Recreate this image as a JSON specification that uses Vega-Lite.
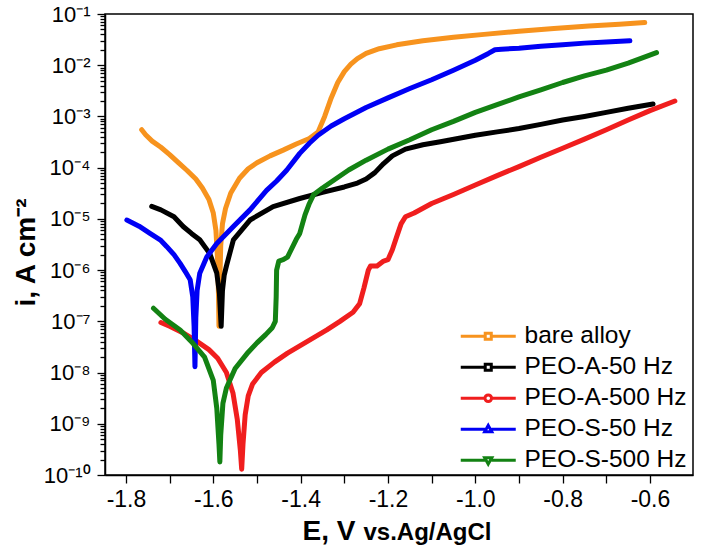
{
  "$schema": "https://vega.github.io/schema/vega-lite/v6.json",
  "width": 588,
  "height": 461,
  "autosize": "none",
  "padding": {"left": 105, "top": 14, "right": 21, "bottom": 71},
  "background": "white",
  "config": {
    "view": {"stroke": "black", "strokeWidth": 1.5},
    "axis": {
      "grid": false,
      "domainColor": "black",
      "domainWidth": 1.5,
      "tickColor": "black",
      "tickWidth": 1.3,
      "labelColor": "black",
      "labelFont": "Liberation Sans",
      "titleFont": "Liberation Sans",
      "titleColor": "black",
      "titleFontWeight": "bold"
    },
    "legend": {"labelFont": "Liberation Sans", "labelColor": "black", "labelLimit": 400}
  },
  "data": {
    "values": [
      {"s": "bare alloy", "E": -1.764, "i": 5.5e-4},
      {"s": "bare alloy", "E": -1.755, "i": 4.4e-4},
      {"s": "bare alloy", "E": -1.74, "i": 3.3e-4},
      {"s": "bare alloy", "E": -1.72, "i": 2.5e-4},
      {"s": "bare alloy", "E": -1.70, "i": 1.8e-4},
      {"s": "bare alloy", "E": -1.68, "i": 1.25e-4},
      {"s": "bare alloy", "E": -1.66, "i": 8.8e-5},
      {"s": "bare alloy", "E": -1.64, "i": 6.0e-5},
      {"s": "bare alloy", "E": -1.625, "i": 4.0e-5},
      {"s": "bare alloy", "E": -1.61, "i": 2.4e-5},
      {"s": "bare alloy", "E": -1.60, "i": 1.3e-5},
      {"s": "bare alloy", "E": -1.594, "i": 6e-6},
      {"s": "bare alloy", "E": -1.590, "i": 1.5e-6},
      {"s": "bare alloy", "E": -1.588, "i": 3e-7},
      {"s": "bare alloy", "E": -1.587, "i": 8e-8},
      {"s": "bare alloy", "E": -1.585, "i": 6e-7},
      {"s": "bare alloy", "E": -1.583, "i": 3e-6},
      {"s": "bare alloy", "E": -1.579, "i": 8e-6},
      {"s": "bare alloy", "E": -1.572, "i": 1.6e-5},
      {"s": "bare alloy", "E": -1.56, "i": 3.2e-5},
      {"s": "bare alloy", "E": -1.54, "i": 6.2e-5},
      {"s": "bare alloy", "E": -1.52, "i": 9.5e-5},
      {"s": "bare alloy", "E": -1.50, "i": 1.25e-4},
      {"s": "bare alloy", "E": -1.47, "i": 1.7e-4},
      {"s": "bare alloy", "E": -1.44, "i": 2.2e-4},
      {"s": "bare alloy", "E": -1.41, "i": 2.9e-4},
      {"s": "bare alloy", "E": -1.38, "i": 3.7e-4},
      {"s": "bare alloy", "E": -1.36, "i": 5.0e-4},
      {"s": "bare alloy", "E": -1.345, "i": 1.0e-3},
      {"s": "bare alloy", "E": -1.33, "i": 2.3e-3},
      {"s": "bare alloy", "E": -1.315, "i": 4.6e-3},
      {"s": "bare alloy", "E": -1.30, "i": 7.5e-3},
      {"s": "bare alloy", "E": -1.285, "i": 1.05e-2},
      {"s": "bare alloy", "E": -1.27, "i": 1.35e-2},
      {"s": "bare alloy", "E": -1.25, "i": 1.7e-2},
      {"s": "bare alloy", "E": -1.22, "i": 2.1e-2},
      {"s": "bare alloy", "E": -1.18, "i": 2.5e-2},
      {"s": "bare alloy", "E": -1.12, "i": 3.0e-2},
      {"s": "bare alloy", "E": -1.05, "i": 3.5e-2},
      {"s": "bare alloy", "E": -0.98, "i": 4.0e-2},
      {"s": "bare alloy", "E": -0.90, "i": 4.6e-2},
      {"s": "bare alloy", "E": -0.82, "i": 5.2e-2},
      {"s": "bare alloy", "E": -0.74, "i": 5.8e-2},
      {"s": "bare alloy", "E": -0.67, "i": 6.3e-2},
      {"s": "bare alloy", "E": -0.612, "i": 6.8e-2},

      {"s": "PEO-A-50 Hz", "E": -1.741, "i": 1.75e-5},
      {"s": "PEO-A-50 Hz", "E": -1.72, "i": 1.5e-5},
      {"s": "PEO-A-50 Hz", "E": -1.69, "i": 1.1e-5},
      {"s": "PEO-A-50 Hz", "E": -1.669, "i": 7.1e-6},
      {"s": "PEO-A-50 Hz", "E": -1.65, "i": 5.2e-6},
      {"s": "PEO-A-50 Hz", "E": -1.631, "i": 3.9e-6},
      {"s": "PEO-A-50 Hz", "E": -1.608, "i": 2.1e-6},
      {"s": "PEO-A-50 Hz", "E": -1.592, "i": 8.7e-7},
      {"s": "PEO-A-50 Hz", "E": -1.586, "i": 3.5e-7},
      {"s": "PEO-A-50 Hz", "E": -1.582, "i": 8e-8},
      {"s": "PEO-A-50 Hz", "E": -1.579, "i": 4e-7},
      {"s": "PEO-A-50 Hz", "E": -1.575, "i": 8e-7},
      {"s": "PEO-A-50 Hz", "E": -1.570, "i": 1.2e-6},
      {"s": "PEO-A-50 Hz", "E": -1.554, "i": 3.9e-6},
      {"s": "PEO-A-50 Hz", "E": -1.516, "i": 9.5e-6},
      {"s": "PEO-A-50 Hz", "E": -1.463, "i": 1.74e-5},
      {"s": "PEO-A-50 Hz", "E": -1.402, "i": 2.5e-5},
      {"s": "PEO-A-50 Hz", "E": -1.35, "i": 3.3e-5},
      {"s": "PEO-A-50 Hz", "E": -1.30, "i": 4.2e-5},
      {"s": "PEO-A-50 Hz", "E": -1.27, "i": 5.0e-5},
      {"s": "PEO-A-50 Hz", "E": -1.25, "i": 6.0e-5},
      {"s": "PEO-A-50 Hz", "E": -1.23, "i": 8.0e-5},
      {"s": "PEO-A-50 Hz", "E": -1.21, "i": 1.2e-4},
      {"s": "PEO-A-50 Hz", "E": -1.19, "i": 1.7e-4},
      {"s": "PEO-A-50 Hz", "E": -1.16, "i": 2.3e-4},
      {"s": "PEO-A-50 Hz", "E": -1.12, "i": 2.8e-4},
      {"s": "PEO-A-50 Hz", "E": -1.08, "i": 3.2e-4},
      {"s": "PEO-A-50 Hz", "E": -1.04, "i": 3.7e-4},
      {"s": "PEO-A-50 Hz", "E": -1.00, "i": 4.3e-4},
      {"s": "PEO-A-50 Hz", "E": -0.95, "i": 5.0e-4},
      {"s": "PEO-A-50 Hz", "E": -0.90, "i": 5.8e-4},
      {"s": "PEO-A-50 Hz", "E": -0.85, "i": 7.0e-4},
      {"s": "PEO-A-50 Hz", "E": -0.80, "i": 8.5e-4},
      {"s": "PEO-A-50 Hz", "E": -0.75, "i": 1.0e-3},
      {"s": "PEO-A-50 Hz", "E": -0.70, "i": 1.2e-3},
      {"s": "PEO-A-50 Hz", "E": -0.65, "i": 1.45e-3},
      {"s": "PEO-A-50 Hz", "E": -0.593, "i": 1.75e-3},

      {"s": "PEO-A-500 Hz", "E": -1.72, "i": 9.5e-8},
      {"s": "PEO-A-500 Hz", "E": -1.70, "i": 8e-8},
      {"s": "PEO-A-500 Hz", "E": -1.67, "i": 6e-8},
      {"s": "PEO-A-500 Hz", "E": -1.64, "i": 4.2e-8},
      {"s": "PEO-A-500 Hz", "E": -1.61, "i": 2.8e-8},
      {"s": "PEO-A-500 Hz", "E": -1.59, "i": 1.9e-8},
      {"s": "PEO-A-500 Hz", "E": -1.57, "i": 1.0e-8},
      {"s": "PEO-A-500 Hz", "E": -1.555, "i": 4e-9},
      {"s": "PEO-A-500 Hz", "E": -1.545, "i": 1.2e-9},
      {"s": "PEO-A-500 Hz", "E": -1.538, "i": 3e-10},
      {"s": "PEO-A-500 Hz", "E": -1.535, "i": 1.3e-10},
      {"s": "PEO-A-500 Hz", "E": -1.532, "i": 4e-10},
      {"s": "PEO-A-500 Hz", "E": -1.527, "i": 1.5e-9},
      {"s": "PEO-A-500 Hz", "E": -1.52, "i": 3.5e-9},
      {"s": "PEO-A-500 Hz", "E": -1.51, "i": 6e-9},
      {"s": "PEO-A-500 Hz", "E": -1.49, "i": 1e-8},
      {"s": "PEO-A-500 Hz", "E": -1.46, "i": 1.6e-8},
      {"s": "PEO-A-500 Hz", "E": -1.43, "i": 2.4e-8},
      {"s": "PEO-A-500 Hz", "E": -1.40, "i": 3.4e-8},
      {"s": "PEO-A-500 Hz", "E": -1.37, "i": 4.8e-8},
      {"s": "PEO-A-500 Hz", "E": -1.34, "i": 6.8e-8},
      {"s": "PEO-A-500 Hz", "E": -1.31, "i": 1.0e-7},
      {"s": "PEO-A-500 Hz", "E": -1.28, "i": 1.5e-7},
      {"s": "PEO-A-500 Hz", "E": -1.265, "i": 2.2e-7},
      {"s": "PEO-A-500 Hz", "E": -1.255, "i": 4.5e-7},
      {"s": "PEO-A-500 Hz", "E": -1.245, "i": 1.0e-6},
      {"s": "PEO-A-500 Hz", "E": -1.24, "i": 1.2e-6},
      {"s": "PEO-A-500 Hz", "E": -1.225, "i": 1.2e-6},
      {"s": "PEO-A-500 Hz", "E": -1.21, "i": 1.5e-6},
      {"s": "PEO-A-500 Hz", "E": -1.20, "i": 1.6e-6},
      {"s": "PEO-A-500 Hz", "E": -1.19, "i": 2.5e-6},
      {"s": "PEO-A-500 Hz", "E": -1.18, "i": 4.5e-6},
      {"s": "PEO-A-500 Hz", "E": -1.17, "i": 8e-6},
      {"s": "PEO-A-500 Hz", "E": -1.16, "i": 1.1e-5},
      {"s": "PEO-A-500 Hz", "E": -1.14, "i": 1.3e-5},
      {"s": "PEO-A-500 Hz", "E": -1.10, "i": 2e-5},
      {"s": "PEO-A-500 Hz", "E": -1.05, "i": 3e-5},
      {"s": "PEO-A-500 Hz", "E": -1.00, "i": 4.6e-5},
      {"s": "PEO-A-500 Hz", "E": -0.95, "i": 7e-5},
      {"s": "PEO-A-500 Hz", "E": -0.90, "i": 1.05e-4},
      {"s": "PEO-A-500 Hz", "E": -0.85, "i": 1.6e-4},
      {"s": "PEO-A-500 Hz", "E": -0.80, "i": 2.4e-4},
      {"s": "PEO-A-500 Hz", "E": -0.75, "i": 3.6e-4},
      {"s": "PEO-A-500 Hz", "E": -0.70, "i": 5.5e-4},
      {"s": "PEO-A-500 Hz", "E": -0.65, "i": 8.5e-4},
      {"s": "PEO-A-500 Hz", "E": -0.60, "i": 1.3e-3},
      {"s": "PEO-A-500 Hz", "E": -0.543, "i": 2.0e-3},

      {"s": "PEO-S-50 Hz", "E": -1.798, "i": 9.5e-6},
      {"s": "PEO-S-50 Hz", "E": -1.77, "i": 7.2e-6},
      {"s": "PEO-S-50 Hz", "E": -1.745, "i": 5.2e-6},
      {"s": "PEO-S-50 Hz", "E": -1.72, "i": 3.8e-6},
      {"s": "PEO-S-50 Hz", "E": -1.707, "i": 2.9e-6},
      {"s": "PEO-S-50 Hz", "E": -1.69, "i": 2.0e-6},
      {"s": "PEO-S-50 Hz", "E": -1.676, "i": 1.35e-6},
      {"s": "PEO-S-50 Hz", "E": -1.663, "i": 9e-7},
      {"s": "PEO-S-50 Hz", "E": -1.653, "i": 6.5e-7},
      {"s": "PEO-S-50 Hz", "E": -1.647, "i": 3e-7},
      {"s": "PEO-S-50 Hz", "E": -1.644, "i": 8e-8},
      {"s": "PEO-S-50 Hz", "E": -1.642, "i": 1.3e-8},
      {"s": "PEO-S-50 Hz", "E": -1.640, "i": 1.2e-7},
      {"s": "PEO-S-50 Hz", "E": -1.637, "i": 4e-7},
      {"s": "PEO-S-50 Hz", "E": -1.631, "i": 8.7e-7},
      {"s": "PEO-S-50 Hz", "E": -1.615, "i": 1.8e-6},
      {"s": "PEO-S-50 Hz", "E": -1.592, "i": 3.3e-6},
      {"s": "PEO-S-50 Hz", "E": -1.554, "i": 7.1e-6},
      {"s": "PEO-S-50 Hz", "E": -1.516, "i": 1.5e-5},
      {"s": "PEO-S-50 Hz", "E": -1.478, "i": 3.6e-5},
      {"s": "PEO-S-50 Hz", "E": -1.455, "i": 5.5e-5},
      {"s": "PEO-S-50 Hz", "E": -1.432, "i": 8.9e-5},
      {"s": "PEO-S-50 Hz", "E": -1.402, "i": 1.9e-4},
      {"s": "PEO-S-50 Hz", "E": -1.38, "i": 3.0e-4},
      {"s": "PEO-S-50 Hz", "E": -1.36, "i": 4.3e-4},
      {"s": "PEO-S-50 Hz", "E": -1.33, "i": 6.5e-4},
      {"s": "PEO-S-50 Hz", "E": -1.30, "i": 9e-4},
      {"s": "PEO-S-50 Hz", "E": -1.25, "i": 1.5e-3},
      {"s": "PEO-S-50 Hz", "E": -1.20, "i": 2.3e-3},
      {"s": "PEO-S-50 Hz", "E": -1.15, "i": 3.5e-3},
      {"s": "PEO-S-50 Hz", "E": -1.10, "i": 5.2e-3},
      {"s": "PEO-S-50 Hz", "E": -1.05, "i": 8e-3},
      {"s": "PEO-S-50 Hz", "E": -1.00, "i": 1.25e-2},
      {"s": "PEO-S-50 Hz", "E": -0.97, "i": 1.7e-2},
      {"s": "PEO-S-50 Hz", "E": -0.955, "i": 2.0e-2},
      {"s": "PEO-S-50 Hz", "E": -0.94, "i": 2.05e-2},
      {"s": "PEO-S-50 Hz", "E": -0.90, "i": 2.15e-2},
      {"s": "PEO-S-50 Hz", "E": -0.85, "i": 2.35e-2},
      {"s": "PEO-S-50 Hz", "E": -0.80, "i": 2.5e-2},
      {"s": "PEO-S-50 Hz", "E": -0.75, "i": 2.7e-2},
      {"s": "PEO-S-50 Hz", "E": -0.70, "i": 2.85e-2},
      {"s": "PEO-S-50 Hz", "E": -0.646, "i": 3.0e-2},

      {"s": "PEO-S-500 Hz", "E": -1.737, "i": 1.8e-7},
      {"s": "PEO-S-500 Hz", "E": -1.71, "i": 1.1e-7},
      {"s": "PEO-S-500 Hz", "E": -1.676, "i": 6.8e-8},
      {"s": "PEO-S-500 Hz", "E": -1.65, "i": 4e-8},
      {"s": "PEO-S-500 Hz", "E": -1.62, "i": 2e-8},
      {"s": "PEO-S-500 Hz", "E": -1.60, "i": 7e-9},
      {"s": "PEO-S-500 Hz", "E": -1.592, "i": 2e-9},
      {"s": "PEO-S-500 Hz", "E": -1.587, "i": 4e-10},
      {"s": "PEO-S-500 Hz", "E": -1.585, "i": 1.8e-10},
      {"s": "PEO-S-500 Hz", "E": -1.583, "i": 6e-10},
      {"s": "PEO-S-500 Hz", "E": -1.578, "i": 2.5e-9},
      {"s": "PEO-S-500 Hz", "E": -1.57, "i": 5e-9},
      {"s": "PEO-S-500 Hz", "E": -1.55, "i": 1.2e-8},
      {"s": "PEO-S-500 Hz", "E": -1.52, "i": 2.5e-8},
      {"s": "PEO-S-500 Hz", "E": -1.50, "i": 3.8e-8},
      {"s": "PEO-S-500 Hz", "E": -1.48, "i": 5.5e-8},
      {"s": "PEO-S-500 Hz", "E": -1.465, "i": 7.5e-8},
      {"s": "PEO-S-500 Hz", "E": -1.458, "i": 1.0e-7},
      {"s": "PEO-S-500 Hz", "E": -1.456, "i": 3e-7},
      {"s": "PEO-S-500 Hz", "E": -1.455, "i": 1.0e-6},
      {"s": "PEO-S-500 Hz", "E": -1.45, "i": 1.5e-6},
      {"s": "PEO-S-500 Hz", "E": -1.44, "i": 1.6e-6},
      {"s": "PEO-S-500 Hz", "E": -1.43, "i": 1.8e-6},
      {"s": "PEO-S-500 Hz", "E": -1.41, "i": 4e-6},
      {"s": "PEO-S-500 Hz", "E": -1.402, "i": 5.2e-6},
      {"s": "PEO-S-500 Hz", "E": -1.39, "i": 1.2e-5},
      {"s": "PEO-S-500 Hz", "E": -1.38, "i": 2e-5},
      {"s": "PEO-S-500 Hz", "E": -1.37, "i": 3e-5},
      {"s": "PEO-S-500 Hz", "E": -1.35, "i": 4e-5},
      {"s": "PEO-S-500 Hz", "E": -1.32, "i": 6e-5},
      {"s": "PEO-S-500 Hz", "E": -1.29, "i": 9e-5},
      {"s": "PEO-S-500 Hz", "E": -1.25, "i": 1.4e-4},
      {"s": "PEO-S-500 Hz", "E": -1.20, "i": 2.3e-4},
      {"s": "PEO-S-500 Hz", "E": -1.15, "i": 3.5e-4},
      {"s": "PEO-S-500 Hz", "E": -1.10, "i": 5.5e-4},
      {"s": "PEO-S-500 Hz", "E": -1.05, "i": 8e-4},
      {"s": "PEO-S-500 Hz", "E": -1.00, "i": 1.2e-3},
      {"s": "PEO-S-500 Hz", "E": -0.95, "i": 1.7e-3},
      {"s": "PEO-S-500 Hz", "E": -0.90, "i": 2.4e-3},
      {"s": "PEO-S-500 Hz", "E": -0.85, "i": 3.3e-3},
      {"s": "PEO-S-500 Hz", "E": -0.80, "i": 4.6e-3},
      {"s": "PEO-S-500 Hz", "E": -0.75, "i": 6.2e-3},
      {"s": "PEO-S-500 Hz", "E": -0.70, "i": 8e-3},
      {"s": "PEO-S-500 Hz", "E": -0.65, "i": 1.1e-2},
      {"s": "PEO-S-500 Hz", "E": -0.585, "i": 1.76e-2}
    ]
  },
  "resolve": {"axis": {"x": "independent", "y": "independent"}},
  "layer": [
    {
      "mark": {"type": "line", "strokeWidth": 5, "strokeJoin": "round", "strokeCap": "round"},
      "encoding": {
        "x": {
          "field": "E", "type": "quantitative",
          "scale": {"domain": [-1.848, -0.5015], "nice": false, "zero": false},
          "axis": {
            "values": [-1.8, -1.7, -1.6, -1.5, -1.4, -1.3, -1.2, -1.1, -1.0, -0.9, -0.8, -0.7, -0.6],
            "labelExpr": "abs(round(datum.value*10)) % 2 == 0 ? replace(format(datum.value, '.1f'), '−', '-') : ''",
            "labelFontSize": 23,
            "labelPadding": 5,
            "labelOverlap": false,
            "tickSize": 8,
            "title": "E, V",
            "titleFontSize": 28,
            "titleAlign": "left",
            "titleAnchor": "start",
            "titleBaseline": "alphabetic",
            "titleX": 197,
            "titleY": 64
          }
        },
        "y": {
          "field": "i", "type": "quantitative",
          "scale": {"type": "log", "domain": [1e-10, 0.1], "nice": false},
          "axis": {
            "values": [1e-10, 1e-9, 1e-8, 1e-7, 1e-6, 1e-5, 1e-4, 1e-3, 1e-2, 1e-1],
            "labelExpr": "'10' + replace(replace(replace(replace(replace(replace(replace(replace(replace(replace(replace('' + round(log(datum.value)/LN10), '-', '⁻'), '0', '⁰'), '1', '¹'), '2', '²'), '3', '³'), '4', '⁴'), '5', '⁵'), '6', '⁶'), '7', '⁷'), '8', '⁸'), '9', '⁹')",
            "labelFontSize": 22,
            "labelPadding": 7,
            "labelOverlap": false,
            "labelFlush": false,
            "tickSize": 8,
            "title": "i, A cm⁻²",
            "titleFontSize": 28,
            "titleAngle": 270,
            "titleAlign": "center",
            "titleBaseline": "alphabetic",
            "titleX": -71,
            "titleY": 238
          }
        },
        "color": {
          "field": "s", "type": "nominal",
          "scale": {
            "domain": ["bare alloy", "PEO-A-50 Hz", "PEO-A-500 Hz", "PEO-S-50 Hz", "PEO-S-500 Hz"],
            "range": ["#F7931E", "#000000", "#F01E1E", "#0000F5", "#138213"]
          },
          "legend": {
            "orient": "none",
            "legendX": 371,
            "legendY": 310,
            "title": null,
            "padding": 0,
            "rowPadding": 6,
            "labelFontSize": 24.5,
            "labelLimit": 400,
            "labelOffset": 24,
            "symbolSize": 121,
            "symbolStrokeWidth": 3,
            "encode": {
              "symbols": {
                "update": {
                  "shape": {"signal": "datum.value === 'PEO-A-500 Hz' ? 'M-5,0H-0.6M0.6,0H5M-0.6,0A0.6,0.6 0 1,0 0.6,0A0.6,0.6 0 1,0 -0.6,0Z' : datum.value === 'PEO-S-50 Hz' ? 'M-5,0H-0.6M0.6,0H5M0,-0.7L0.65,0.45H-0.65Z' : datum.value === 'PEO-S-500 Hz' ? 'M-5,0H-0.6M0.6,0H5M0,0.7L0.65,-0.45H-0.65Z' : 'M-5,0H-0.55M0.55,0H5M-0.55,-0.55H0.55V0.55H-0.55Z'"},
                  "fill": {"value": "white"},
                  "strokeWidth": {"value": 3}
                }
              }
            }
          }
        }
      }
    },
    {
      "mark": {"type": "line", "opacity": 0},
      "encoding": {
        "detail": {"field": "s"},
        "x": {
          "field": "E", "type": "quantitative",
          "axis": {
            "orient": "bottom",
            "labels": false,
            "ticks": false,
            "domain": false,
            "title": "vs.Ag/AgCl",
            "titleFontSize": 24,
            "titleAlign": "left",
            "titleAnchor": "start",
            "titleBaseline": "alphabetic",
            "titleX": 258,
            "titleY": 64
          }
        },
        "y": {
          "field": "i", "type": "quantitative",
          "axis": {
            "orient": "left",
            "values": [2e-10,3e-10,4e-10,5e-10,6e-10,7e-10,8e-10,9e-10,
                       2e-9,3e-9,4e-9,5e-9,6e-9,7e-9,8e-9,9e-9,
                       2e-8,3e-8,4e-8,5e-8,6e-8,7e-8,8e-8,9e-8,
                       2e-7,3e-7,4e-7,5e-7,6e-7,7e-7,8e-7,9e-7,
                       2e-6,3e-6,4e-6,5e-6,6e-6,7e-6,8e-6,9e-6,
                       2e-5,3e-5,4e-5,5e-5,6e-5,7e-5,8e-5,9e-5,
                       2e-4,3e-4,4e-4,5e-4,6e-4,7e-4,8e-4,9e-4,
                       2e-3,3e-3,4e-3,5e-3,6e-3,7e-3,8e-3,9e-3,
                       2e-2,3e-2,4e-2,5e-2,6e-2,7e-2,8e-2,9e-2],
            "labels": false,
            "domain": false,
            "tickSize": 5,
            "title": null
          }
        }
      }
    }
  ]
}
